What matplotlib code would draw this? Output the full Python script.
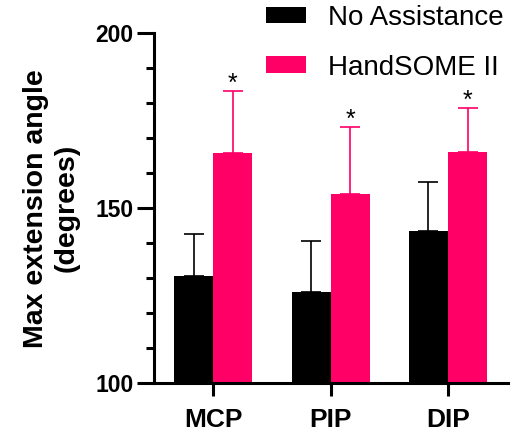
import matplotlib
matplotlib.use("Agg")
import matplotlib.pyplot as plt
import numpy as np

plt.rcParams['font.family'] = ['Liberation Sans', 'DejaVu Sans']

joints = ["MCP", "PIP", "DIP"]
no_assist_mean = [130.7, 126.2, 143.6]
no_assist_sd = [12.0, 14.5, 13.8]
handsome_mean = [165.7, 154.1, 166.0]
handsome_sd = [17.8, 19.1, 12.7]
series_labels = ["No Assistance", "HandSOME II"]
sig_marks = ["*", "*", "*"]

black = "#000000"
pink = "#FF0066"

fig = plt.figure(figsize=(5.12, 4.32), dpi=100)
ax = fig.add_axes([0.3008, 0.1127, 0.6912, 0.8109])

x = np.arange(len(joints))
w = 1 / 3

b1 = ax.bar(x - w / 2, no_assist_mean, width=w, color=black, label=series_labels[0], zorder=2)
b2 = ax.bar(x + w / 2, handsome_mean, width=w, color=pink, label=series_labels[1], zorder=2)

ax.errorbar(x - w / 2, no_assist_mean, yerr=[np.zeros(3), no_assist_sd], fmt='none',
            ecolor=black, elinewidth=1.2, capsize=7, capthick=1.2, zorder=1)
ax.errorbar(x + w / 2, handsome_mean, yerr=[np.zeros(3), handsome_sd], fmt='none',
            ecolor=pink, elinewidth=1.2, capsize=7, capthick=1.2, zorder=1)

for xi, m, s, mark in zip(x + w / 2, handsome_mean, handsome_sd, sig_marks):
    ax.text(xi, m + s, mark, ha='center', va='baseline', fontsize=18)

ax.set_xlim(-0.505, 2.51)
ax.set_ylim(100, 200)
ax.set_yticks([100, 150, 200])
ax.set_yticks(np.arange(110, 200, 10), minor=True)
ax.set_xticks(x)
ax.set_xticklabels(joints, fontsize=19, fontweight='bold')
for lab in ax.get_yticklabels():
    lab.set_fontsize(16.5)
    lab.set_fontweight('bold')

ax.spines['top'].set_visible(False)
ax.spines['right'].set_visible(False)
for sp in ('left', 'bottom'):
    ax.spines[sp].set_linewidth(2.2)
ax.tick_params(axis='y', which='major', length=12, width=2.2, pad=2.5)
ax.tick_params(axis='y', which='minor', length=5.5, width=2.2)
ax.tick_params(axis='x', which='major', length=9.5, width=2.2, pad=8)

ax.set_ylabel("Max extension angle\n(degrees)", fontsize=20.5, fontweight='bold',
              linespacing=1.25)
ax.yaxis.set_label_coords(-0.21, 0.5)

fig.legend(handles=[b1, b2], labels=series_labels, loc='upper right',
           bbox_to_anchor=(0.99, 0.995), frameon=False, fontsize=20,
           handlelength=1.45, handleheight=0.55, handletextpad=0.8,
           labelspacing=0.85, borderaxespad=0, borderpad=0.1)

fig.savefig("out.png", dpi=100)
